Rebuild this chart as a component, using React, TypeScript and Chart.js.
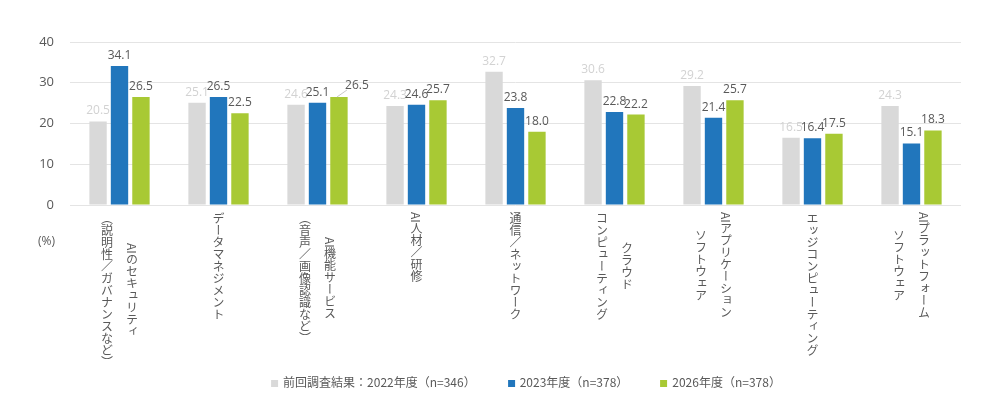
import React, { useEffect, useRef, useState } from 'react';
import { Chart, registerables } from 'chart.js';

Chart.register(...registerables);

// each category is written vertically; first line is the right-hand column
const categories: string[][] = [
  ['AIのセキュリティ', '（説明性／ガバナンスなど）'],
  ['データマネジメント'],
  ['AI機能サービス', '（音声／画像認識など）'],
  ['AI人材／研修'],
  ['通信／ネットワーク'],
  ['クラウド', 'コンピューティング'],
  ['AIアプリケーション', 'ソフトウェア'],
  ['エッジコンピューティング'],
  ['AIプラットフォーム', 'ソフトウェア'],
];

const seriesNames = ['前回調査結果：2022年度（n=346）', '2023年度（n=378）', '2026年度（n=378）'];
const values2022 = [20.5, 25.1, 24.6, 24.3, 32.7, 30.6, 29.2, 16.5, 24.3];
const values2023 = [34.1, 26.5, 25.1, 24.6, 23.8, 22.8, 21.4, 16.4, 15.1];
const values2026 = [26.5, 22.5, 26.5, 25.7, 18.0, 22.2, 25.7, 17.5, 18.3];
const yTicks = [0, 10, 20, 30, 40];
const unitLabel = '(%)';

const barColors = ['#d9d9d9', '#2176bc', '#a8c934'];
const labelColors = ['#d2d2d2', '#595959', '#595959'];
const textColor = '#595959';
const numFont = '"Segoe UI", "Open Sans", sans-serif';
const jpFont = '"Noto Sans CJK JP", "Noto Sans", sans-serif';

// value labels above bars (one label is pushed aside with a leader line, as in the original)
const valueLabels = {
  id: 'valueLabels',
  afterDatasetsDraw(chart: any) {
    const { ctx } = chart;
    ctx.save();
    ctx.font = `12px ${numFont}`;
    ctx.textAlign = 'center';
    ctx.textBaseline = 'alphabetic';
    chart.data.datasets.forEach((ds: any, di: number) => {
      const meta = chart.getDatasetMeta(di);
      meta.data.forEach((bar: any, i: number) => {
        const v = ds.data[i] as number;
        let x = bar.x;
        let y = bar.y - 7;
        if (di === 2 && i === 2) {
          ctx.strokeStyle = '#c8c8c8';
          ctx.lineWidth = 1;
          ctx.beginPath();
          ctx.moveTo(bar.x - 2, bar.y);
          ctx.lineTo(bar.x + 8, bar.y - 7);
          ctx.stroke();
          x += 18;
          y -= 1;
        }
        ctx.fillStyle = labelColors[di];
        ctx.fillText(v.toFixed(1), x, y);
      });
    });
    ctx.restore();
  },
};

export default function App() {
  const canvasRef = useRef<HTMLCanvasElement>(null);
  const [tickX, setTickX] = useState<number[]>([]);

  useEffect(() => {
    if (!canvasRef.current) return;

    const chart = new Chart(canvasRef.current, {
      type: 'bar',
      data: {
        labels: categories.map(c => c.join('')),
        datasets: [values2022, values2023, values2026].map((data, i) => ({
          label: seriesNames[i],
          data,
          backgroundColor: barColors[i],
          categoryPercentage: 0.65,
          barPercentage: 0.81,
        })),
      },
      options: {
        responsive: false,
        animation: false,
        layout: { padding: { left: 8, right: 39, top: 42, bottom: 208 } },
        plugins: {
          legend: { display: false },
          tooltip: { enabled: false },
        },
        scales: {
          x: {
            afterFit: (scale: any) => {
              scale.height = 0;
            },
            grid: { display: false, drawTicks: false },
            border: { display: false },
            ticks: { display: false },
          },
          y: {
            min: yTicks[0],
            max: yTicks[yTicks.length - 1],
            afterFit: (scale: any) => {
              scale.width = 62;
            },
            ticks: {
              stepSize: yTicks[1] - yTicks[0],
              color: textColor,
              padding: 16,
              font: { size: 13, family: numFont },
            },
            grid: { color: '#e4e4e4', drawTicks: false },
            border: { display: false },
          },
        },
      },
      plugins: [valueLabels],
    });

    const xScale = chart.scales.x;
    setTickX(categories.map((_, i) => xScale.getPixelForValue(i)));

    return () => {
      chart.destroy();
    };
  }, []);

  return (
    <div style={{ position: 'relative', width: 1000, height: 413, fontFamily: jpFont, color: textColor }}>
      <style>{'body{margin:0}'}</style>
      <canvas ref={canvasRef} width={1000} height={413} style={{ display: 'block' }} />

      <div style={{ position: 'absolute', left: 38, top: 232, fontSize: 12, fontFamily: numFont }}>{unitLabel}</div>

      {tickX.map((x, i) => (
        <div
          key={i}
          style={{
            position: 'absolute',
            left: x,
            top: 212,
            transform: 'translateX(-50%)',
            writingMode: 'vertical-rl',
            whiteSpace: 'pre',
            textAlign: 'center',
            fontSize: 12,
            lineHeight: '25px',
            textSpacingTrim: 'space-all',
          } as React.CSSProperties}
        >
          {categories[i].join('\n')}
        </div>
      ))}

      <div
        style={{
          position: 'absolute',
          left: 526,
          top: 374,
          transform: 'translateX(-50%)',
          display: 'flex',
          gap: 32,
          whiteSpace: 'nowrap',
          fontSize: 12,
          lineHeight: '16px',
        }}
      >
        {seriesNames.map((name, i) => (
          <div key={name} style={{ display: 'flex', alignItems: 'center' }}>
            <span style={{ width: 7, height: 7, background: barColors[i], marginRight: 5, marginTop: 3 }} />
            <span>{name}</span>
          </div>
        ))}
      </div>
    </div>
  );
}
